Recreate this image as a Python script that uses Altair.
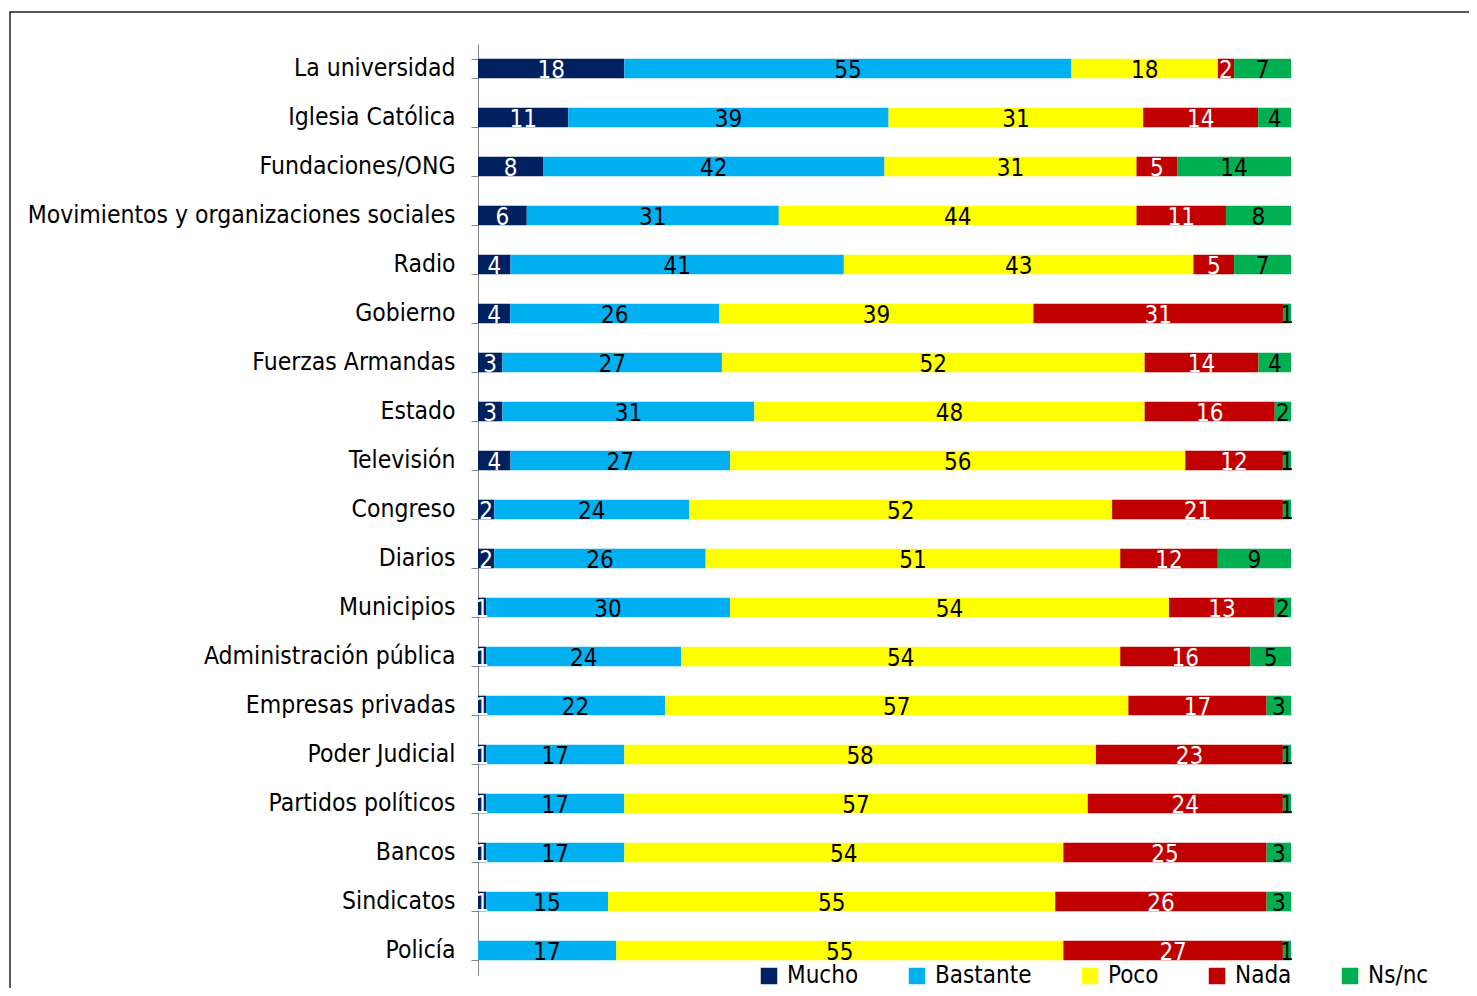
import altair as alt
import pandas as pd

categories = ["La universidad", "Iglesia Católica", "Fundaciones/ONG",
              "Movimientos y organizaciones sociales", "Radio", "Gobierno",
              "Fuerzas Armandas", "Estado", "Televisión", "Congreso", "Diarios",
              "Municipios", "Administración pública", "Empresas privadas",
              "Poder Judicial", "Partidos políticos", "Bancos", "Sindicatos", "Policía"]

series = ["Mucho", "Bastante", "Poco", "Nada", "Ns/nc"]
colors = ["#002060", "#00B0F0", "#FFFF00", "#C00000", "#00B050"]

mucho = [18, 11, 8, 6, 4, 4, 3, 3, 4, 2, 2, 1, 1, 1, 1, 1, 1, 1, 0]
bastante = [55, 39, 42, 31, 41, 26, 27, 31, 27, 24, 26, 30, 24, 22, 17, 17, 17, 15, 17]
poco = [18, 31, 31, 44, 43, 39, 52, 48, 56, 52, 51, 54, 54, 57, 58, 57, 54, 55, 55]
nada = [2, 14, 5, 11, 5, 31, 14, 16, 12, 21, 12, 13, 16, 17, 23, 24, 25, 26, 27]
nsnc = [7, 4, 14, 8, 7, 1, 4, 2, 1, 1, 9, 2, 5, 3, 1, 1, 3, 3, 1]

values = [mucho, bastante, poco, nada, nsnc]
rows = []
for si, (s, vals) in enumerate(zip(series, values)):
    for c, v in zip(categories, vals):
        rows.append({"cat": c, "serie": s, "orden": si, "valor": v})
df = pd.DataFrame(rows)

FONT = "DejaVu Sans Condensed, Liberation Sans Narrow, Open Sans, sans-serif"

base = alt.Chart(df).transform_stack(
    stack="valor", groupby=["cat"], as_=["v0", "v1"], offset="normalize",
    sort=[alt.SortField("orden", order="ascending")]
).transform_calculate(mid="(datum.v0 + datum.v1) / 2")

yenc = alt.Y("cat:N", sort=categories, title=None,
             scale=alt.Scale(paddingInner=0.6, paddingOuter=0.3),
             axis=alt.Axis(tickBand="extent", tickSize=7, tickColor="#868686",
                           domainColor="#868686", labelColor="#000000",
                           labelFontSize=24.5, labelFont=FONT, labelPadding=16,
                           labelLimit=600))

bars = base.mark_bar().encode(
    x=alt.X("v0:Q", axis=None, scale=alt.Scale(domain=[0, 1], nice=False, zero=False)),
    x2="v1:Q",
    y=yenc,
    color=alt.Color("serie:N", sort=series,
                    scale=alt.Scale(domain=series, range=colors),
                    legend=alt.Legend(title=None, orient="none", direction="horizontal",
                                      legendX=279, legendY=920,
                                      symbolType="square", symbolSize=272,
                                      symbolStrokeWidth=0, symbolOpacity=1,
                                      labelFontSize=24, labelFont=FONT,
                                      labelColor="#000000", columnPadding=46,
                                      labelOffset=6)),
)

texts = base.transform_filter("datum.valor > 0").mark_text(
    fontSize=24, font=FONT, baseline="middle", dy=2
).encode(
    x=alt.X("mid:Q", axis=None, scale=alt.Scale(domain=[0, 1], nice=False, zero=False)),
    y=alt.Y("cat:N", sort=categories),
    text="valor:Q",
    color=alt.condition(alt.FieldOneOfPredicate(field="serie", oneOf=["Mucho", "Nada"]),
                        alt.value("white"), alt.value("black")),
)

frame = alt.Chart(pd.DataFrame({"a": [0]})).mark_rect(
    fillOpacity=0, stroke="#222222", strokeWidth=1.5
).encode(x=alt.value(-468), x2=alt.value(1300), y=alt.value(-32), y2=alt.value(1100))

chart = alt.layer(frame, bars, texts).properties(
    width=813, height=931,
    autosize=alt.AutoSizeParams(type="none"),
    padding={"left": 470, "top": 36, "right": 178, "bottom": 13},
).configure(font=FONT).configure_view(stroke=None)

chart.save("out.html", embed_options={"renderer": "svg", "actions": False})
